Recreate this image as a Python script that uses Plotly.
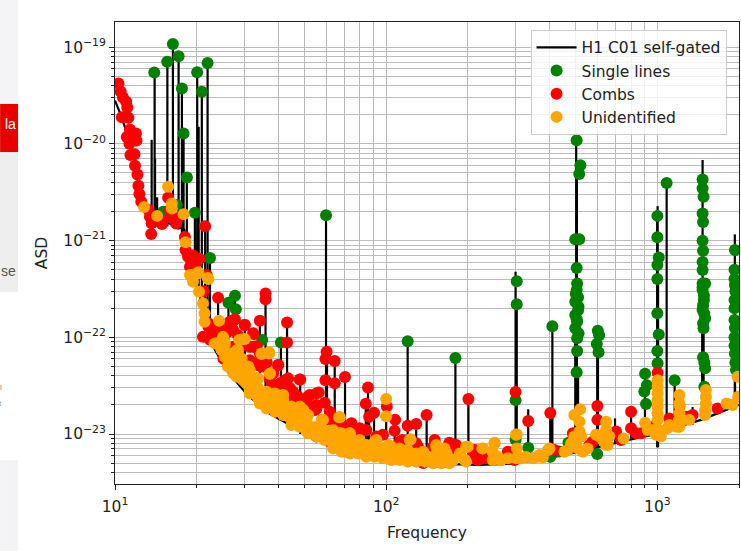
import plotly.graph_objects as go

# noise floor of the spectrum
floor_freq = [10, 10.5, 11.4, 12.2, 13.5, 15, 18, 19.5, 20.5, 21.4, 23, 25.7, 30.6, 36, 45, 55, 67, 80, 97, 125, 161,
              220, 280, 367, 480, 600, 730, 860, 1000, 1200, 1450, 1730, 2000]
floor_asd = [2.8e-20, 2e-20, 1e-20, 4e-21, 1.6e-21, 1.6e-21, 1.3e-21, 4e-22, 2.8e-22, 1.4e-22, 8e-23, 4.6e-23, 2.6e-23,
             1.7e-23, 1.2e-23, 9.2e-24, 6.6e-24, 5.9e-24, 5.3e-24, 5e-24, 4.9e-24, 4.8e-24, 4.9e-24, 5.4e-24, 6.3e-24,
             7.3e-24, 8.3e-24, 9.2e-24, 1e-23, 1.2e-23, 1.4e-23, 1.7e-23, 2e-23]

# spikes standing on the floor
stem_freq = [13.65, 14.0, 14.05, 14.3, 15.6, 16.35, 17.16, 17.65, 17.9, 18.4, 19.7, 20.1, 20.35, 20.9, 21.5, 21.95, 22.4,
             24, 26.2, 27.7, 30.1, 34.2, 35.9, 36.2, 40.9, 43.1, 43.5, 48.2, 60, 60.5, 64.6, 70.5, 84.1, 85.7, 86.5,
             90.2, 100, 107.5, 120, 129, 141, 180, 201, 300, 303, 334, 403, 405, 410, 498, 502, 505, 510, 600, 604,
             698, 800, 900, 998, 1002, 1006, 1082, 1158, 1349, 1464, 1468, 1474, 1480, 1667, 1930, 1934]
stem_top = [1.1e-20, 5.5e-20, 7e-21, 2.8e-21, 7e-20, 1.08e-19, 8e-20, 3.7e-20, 1.3e-20, 4.5e-21, 2e-21, 5.5e-20, 1.5e-20,
            3.4e-20, 1.4e-21, 6.8e-20, 6.6e-22, 2.56e-22, 2.28e-22, 2.69e-22, 1.34e-22, 1.48e-22, 2.84e-22, 5.6e-23,
            8.85e-23, 1.42e-22, 3.76e-23, 3.67e-23, 1.83e-21, 7.1e-23, 5.68e-23, 3.88e-23, 2.06e-23, 3.03e-23, 1.51e-23,
            1.66e-23, 2.3e-23, 1.4e-23, 9.1e-23, 1.27e-23, 1.57e-23, 6.1e-23, 2.3e-23, 4.76e-22, 2.19e-22, 1.8e-23,
            1.65e-23, 1.65e-23, 1.3e-22, 3.6e-22, 1.09e-20, 4.87e-21, 4.35e-23, 1.17e-22, 7e-23, 1.45e-23, 1.7e-23,
            4.2e-23, 1.8e-21, 2.27e-21, 4e-22, 3.93e-21, 3.6e-23, 1.9e-23, 1.24e-22, 6.8e-21, 1.9e-22, 3.6e-22, 2e-23,
            1.16e-21, 1e-22]
stem_base = [1.5e-21, 1.5e-21, 1.4e-21, 1.4e-21, 1.4e-21, 1.4e-21, 1.3e-21, 1.1e-21, 1.1e-21, 1e-21, 4e-22, 3.5e-22,
             3.2e-22, 2.8e-22, 2e-22, 1.5e-22, 1.3e-22, 7e-23, 4.5e-23, 3.8e-23, 2.7e-23, 1.9e-23, 1.7e-23, 1.7e-23,
             1.4e-23, 1.2e-23, 1.2e-23, 1e-23, 8e-24, 8e-24, 7e-24, 6.4e-24, 5.8e-24, 5.8e-24, 5.8e-24, 5.6e-24, 5.3e-24,
             5.2e-24, 5.1e-24, 5e-24, 5e-24, 4.9e-24, 4.8e-24, 5e-24, 5e-24, 5.2e-24, 5.6e-24, 5.6e-24, 5.7e-24, 6.3e-24,
             6.3e-24, 6.4e-24, 6.4e-24, 7.3e-24, 7.3e-24, 8.2e-24, 9e-24, 9.4e-24, 7.3e-24, 7.3e-24, 7.3e-24, 1.05e-23,
             1.1e-23, 1.25e-23, 1.4e-23, 1.4e-23, 1.4e-23, 1.4e-23, 1.6e-23, 1.9e-23, 1.9e-23]

green_freq = [13.96, 15.58, 16.35, 17.16, 17.65, 17.9, 18.42, 20.09, 20.91, 21.95, 19.7, 22.4, 15.06, 16.9,
              26.2, 27.7, 27.9, 34.9, 40.9, 40.5, 60, 120, 180, 300, 303, 303, 300, 300, 334, 403, 410, 435, 470, 600,
              504, 520, 515, 498, 515, 504, 506, 504, 510, 498, 512, 504, 506, 498, 506, 506,
              500, 510, 498, 512, 504,
              603, 610, 598, 607,
              901, 915, 895, 908,
              1000, 1000, 1012, 1000, 1000, 1000, 1012, 1000, 1002,
              1082, 1158,
              1468, 1468, 1480, 1468, 1474, 1468, 1474, 1468, 1468, 1468, 1500, 1468, 1485, 1468, 1500, 1480, 1474, 1500, 1490,
              1468, 1485, 1474, 1490, 1474, 1490,
              1932, 1925, 1932, 1925, 1925, 1925, 1932, 1950,
              1925, 1940, 1925, 1932, 1925, 1940]
green_asd = [5.48e-20, 7.05e-20, 1.08e-19, 8.07e-20, 3.74e-20, 1.28e-20, 4.5e-21, 5.5e-20, 3.45e-20, 6.84e-20, 1.94e-21, 6.6e-22, 1.99e-21, 2.33e-21,
             2.28e-22, 2.69e-22, 1.95e-22, 9.4e-23, 8.85e-23, 3.1e-23, 1.83e-21, 9.1e-23, 6.1e-23, 2.24e-23, 3.79e-22, 2.19e-22, 8.7e-24, 5.8e-24, 7.2e-24, 5.8e-24, 1.3e-22, 6.6e-24, 8.1e-24, 6.2e-24,
             1.09e-20, 6e-21, 4.87e-21, 1.03e-21, 1.03e-21, 5.2e-22, 3.6e-22, 3.08e-22, 2.6e-22, 2.33e-22, 2.07e-22, 1.54e-22, 1.45e-22, 1.24e-22, 9.75e-23, 7.2e-23,
             2.8e-22, 1.9e-22, 1.7e-22, 1.1e-22, 4.35e-23,
             1.17e-22, 1.05e-22, 8.5e-23, 7e-23,
             4.2e-23, 3.2e-23, 2.75e-23, 2.04e-23,
             1.8e-21, 1.08e-21, 6.7e-22, 5.6e-22, 4e-22, 1.77e-22, 1.07e-22, 7.2e-23, 5.4e-23,
             3.93e-21, 3.6e-23,
             4.29e-21, 3.47e-21, 2.84e-21, 1.91e-21, 1.56e-21, 9.95e-22, 7.85e-22, 6e-22, 4.96e-22, 3.6e-22, 3.6e-22, 3.08e-22, 2.43e-22, 1.92e-22, 1.57e-22, 1.24e-22, 6.2e-23, 4.78e-23, 3.08e-23,
             3.3e-22, 2.7e-22, 2.15e-22, 1.75e-22, 1.4e-22, 5.5e-23,
             7.98e-22, 5e-22, 3.47e-22, 2.43e-22, 1.51e-22, 1e-22, 6.8e-23, 4.6e-23,
             4e-22, 3e-22, 2e-22, 1.25e-22, 8.2e-23, 5.5e-23]

red_freq = [10.3, 10.5, 10.7, 11.0, 11.1, 10.6, 11.2, 11.35, 11.95, 11.05, 11.7, 12.0, 11.3, 11.4, 11.8, 11.85, 12.1, 12.2, 12.3,
            12.5, 13.3, 13.45, 13.65, 13.6, 14.9, 15.7, 15.95, 16.2, 17.0, 18.1, 18.6, 18.9, 20.1, 21.5, 21.8,
            19.2, 24.0, 35.9, 35.9, 34.2, 30.1, 27.7, 26.5, 43.1, 43.1, 32.4, 33.3, 23, 24.4, 40, 36.2, 33.3, 42.3, 43.5,
            48.2, 60.3, 59.7, 64.6, 59.7, 64.6, 70.5, 56.4, 52.2, 59.4, 55.3, 61.9, 45.4, 85.7, 84.1, 100.5, 90.2, 86.5,
            107.9, 107.4, 120, 129, 141, 151, 171, 74.5, 79.8, 65.5, 50.8, 41.7, 38.3, 31.4, 27.3, 25, 22.4, 62, 84.5, 112, 137, 55.3,
            171, 181, 201, 300, 334, 403, 601, 601, 800, 800, 1002, 1107, 1349, 1667, 218, 212, 281, 297, 417, 488, 578, 704, 735, 871, 988,
            23.7, 26.1, 28.4, 26.6, 32.4, 34.7, 37.2, 40.6, 45.4, 49.4, 54.6, 58.5, 68.4, 79.8, 92, 112, 122, 129, 171,
            209, 228, 293, 562, 647, 834, 934, 1138, 1276, 15, 16.8, 18.2, 19.4, 20.5, 21.2,
            22.4, 31.4, 34.2, 35.2, 38.3, 44.2, 47.3, 52.3, 62.8, 73.4, 84.5, 97.3, 115, 149, 28.9, 25.8, 21.1, 22.1,
            23, 22.1, 27.3, 27.3, 30.1, 32.3, 32.8, 25.1, 33.7, 36.2, 40, 42.9, 37.8, 48, 51.5, 46.7, 55.3, 55.3, 215, 234, 131]
red_asd = [4.2e-20, 3.45e-20, 3.02e-20, 2.72e-20, 2.38e-20, 1.88e-20, 1.86e-20, 1.41e-20, 1.28e-20, 1.18e-20, 1.2e-20, 1.08e-20, 1e-20, 7.66e-21, 7.8e-21, 5.93e-21, 4.83e-21, 3.68e-21, 3.03e-21,
           2.52e-21, 2.07e-21, 1.76e-21, 1.51e-21, 1.17e-21, 1.48e-21, 2.77e-21, 2.07e-21, 1.76e-21, 1.7e-21, 1.09e-21, 6.8e-22, 5.36e-22, 6.04e-22, 1.41e-21, 4.4e-22,
           5.8e-22, 2.56e-22, 2.84e-22, 2.47e-22, 1.48e-22, 1.34e-22, 1.53e-22, 1.45e-22, 1.42e-22, 8.85e-23, 1.08e-22, 8.1e-23, 1.1e-22, 8.65e-23, 5.16e-23, 5.6e-23, 5.4e-23, 3.6e-23, 3.76e-23,
           3.67e-23, 7.1e-23, 5.96e-23, 5.68e-23, 3.6e-23, 3.34e-23, 3.88e-23, 2.69e-23, 2.53e-23, 2.11e-23, 2e-23, 1.7e-23, 2.74e-23, 3.03e-23, 2.06e-23, 1.92e-23, 1.66e-23, 1.51e-23,
           1.4e-23, 1.08e-23, 1.22e-23, 1.27e-23, 1.57e-23, 8.67e-24, 8e-24, 1.29e-23, 1.02e-23, 1.1e-23, 1.77e-23, 2.53e-23, 3.08e-23, 5.8e-23, 8e-23, 1.19e-22, 1.29e-22, 8.3e-24, 6.07e-24, 5.83e-24, 5e-24, 9.4e-24,
           8.13e-24, 7.7e-24, 2.3e-23, 2.72e-23, 1.36e-23, 1.65e-23, 1.95e-23, 1.4e-23, 1.7e-23, 1.15e-23, 4.3e-23, 1.45e-23, 1.57e-23, 1.84e-23, 5.38e-24, 6.84e-24, 6.56e-24, 5.38e-24, 6.84e-24, 1.02e-23, 8.3e-24, 1.06e-23, 8.67e-24, 1.02e-23, 1.1e-23,
           9.75e-23, 1.14e-22, 1.05e-22, 6.8e-23, 8e-23, 5e-23, 3.76e-23, 3.34e-23, 2.24e-23, 2.24e-23, 1.77e-23, 1.4e-23, 1.29e-23, 1.15e-23, 9.4e-24, 8.3e-24, 8.67e-24, 8e-24, 6.56e-24,
           6.3e-24, 5.6e-24, 5.8e-24, 7.7e-24, 9.8e-24, 1.02e-23, 1.19e-23, 1.4e-23, 1.51e-23, 1.6e-21, 1.5e-21, 8e-22, 7e-22, 6.5e-22, 3e-22,
           9.4e-23, 8e-23, 6.8e-23, 5e-23, 4.24e-23, 2.97e-23, 2.43e-23, 1.92e-23, 1.4e-23, 1.19e-23, 1.1e-23, 9.8e-24, 8.67e-24, 7.4e-24, 8e-23, 6.3e-23, 1.01e-22, 1.29e-22,
           1.19e-22, 1.39e-22, 1.5e-22, 1.19e-22, 1.34e-22, 1.1e-22, 8e-23, 6.05e-23, 5.16e-23, 5.46e-23, 5.16e-23, 3.6e-23, 3.2e-23, 3.67e-23, 2.43e-23, 2.16e-23, 2.63e-23, 1.84e-23, 5.6e-24, 5.6e-24, 7.4e-24]

orange_freq = [12.8, 14.3, 15.7, 16.2, 16.2, 17.9, 18.2, 18.9, 20.3, 22,
               19.2, 20.3, 22.1, 19.4, 20.4, 21.1, 21.4, 21.4, 24.2, 25, 23.3, 24.7, 28.7, 30.1, 28.2, 28.9, 26.1, 28.1, 30.5, 33.3,
               34.7, 37, 37.3, 31.4, 35.2, 38.3, 41.7, 45.4, 49.4, 52.3, 57.8, 67, 56, 62.8, 73.5, 63.6, 79.8, 92, 100, 100, 101.6,
               84.5, 112, 123, 125.6, 153, 162, 144.6, 29.3, 32.4, 36.2, 40, 43.5, 48, 50.8, 60.3, 68.4, 73.5, 103, 137,
               160, 176, 195, 200, 226, 251, 247, 265, 303, 303, 315, 348, 395, 378, 454, 494, 519, 516, 516, 501, 531, 594, 647, 641, 656, 751,
               901, 1002, 1002, 1002, 1002, 961, 1030, 1107, 1205, 1211, 1199, 1178, 1312, 1510, 1510, 1499, 1799, 1892, 1977, 1986,
               26.6, 27.3, 29.7, 28, 31.4, 33.3, 34.2, 37.2, 41.1, 37.2, 41.7, 45.4, 46.7, 49.4, 53.8, 52.3, 58.5, 62.8, 67.5, 71.3,
               77.6, 84.5, 92, 97.3, 106, 115, 133, 149, 167, 120, 137, 92, 25.4, 26.9, 28.5, 30.1, 32.4,
               167, 187, 258, 328, 367, 400, 468, 481, 524, 629, 665, 988, 1091, 1205, 1239,
               23.7, 25.4, 25.4, 27.3, 27.3, 29.3, 29.3, 29.3, 31.4, 31.4, 31.4, 33.7, 33.7, 33.7, 36.2, 36.2, 36.2,
               38.9, 38.9, 38.9, 41.7, 41.7, 41.7, 44.7, 44.7, 44.7, 48, 48, 48, 51.5, 51.5, 51.5, 55.3, 55.3, 59.4, 59.4,
               63.7, 63.7, 63.7, 68.4, 68.4, 68.4, 73.4, 73.4, 73.4, 78.8, 78.8, 84.5, 84.5, 90.7, 90.7, 97.3, 97.3,
               104.5, 104.5, 112, 112, 120, 120, 129, 129, 139, 139, 149, 149, 160, 160, 171, 171,
               164, 197, 281, 362, 494, 508, 647, 1016, 920, 1002, 1002, 1002, 1510, 1499, 1205, 1205,
               25.1, 23.7, 24.7, 29.2, 28.4, 34.7, 37, 37.2, 28.8, 26.1, 31, 27.3, 33.3, 29.7, 31.4, 36.2, 40.6, 34.2, 39.4, 44, 49.4, 48, 53.7,
               63.7, 73.2, 79.8, 92, 102, 112, 122, 153, 153, 176, 197, 195, 228, 251, 247, 265, 301, 301, 58.5, 67.5, 611, 647, 553]
orange_asd = [2.23e-21, 1.8e-21, 3.6e-21, 2.42e-21, 2.15e-21, 1.87e-21, 9.6e-22, 4.4e-22, 4.7e-22, 4.1e-22,
              4.4e-22, 4.6e-22, 4e-22, 3.75e-22, 2.96e-22, 2.24e-22, 1.77e-22, 1.45e-22, 1.48e-22, 1.01e-22, 8.65e-23, 7.5e-23, 9.4e-23, 9.6e-23, 7.4e-23, 5.8e-23, 5e-23, 3.9e-23, 3.34e-23, 3.6e-23,
              6.7e-23, 6.8e-23, 4.2e-23, 2.63e-23, 2.07e-23, 2.43e-23, 2.24e-23, 1.29e-23, 1.77e-23, 1.19e-23, 1.4e-23, 1.49e-23, 9.8e-24, 1.02e-23, 9.8e-24, 8e-24, 8.3e-24, 8.3e-24, 2.3e-23, 1.53e-23, 7.4e-24,
              6.84e-24, 6.56e-24, 8.8e-24, 5.6e-24, 7.4e-24, 5.38e-24, 5.38e-24, 4.58e-23, 2.96e-23, 2.53e-23, 1.92e-23, 1.57e-23, 1.45e-23, 1.1e-23, 1.02e-23, 8.3e-24, 7.1e-24, 5.83e-24, 6.07e-24,
              5.6e-24, 5.3e-24, 5.38e-24, 7.4e-24, 7.1e-24, 8.13e-24, 5.38e-24, 5.38e-24, 9.9e-24, 7.1e-24, 5.6e-24, 5.6e-24, 6.84e-24, 5.74e-24, 6.56e-24, 1.57e-23, 1.8e-23, 1.34e-23, 1.06e-23, 8e-24, 6.56e-24, 9.8e-24, 1.34e-23, 1.02e-23, 7.7e-24, 9e-24,
              1.31e-23, 3.6e-23, 2.63e-23, 1.92e-23, 1.4e-23, 1.1e-23, 9.4e-24, 1.24e-23, 2.53e-23, 1.92e-23, 1.4e-23, 1.19e-23, 1.4e-23, 2.85e-23, 2.07e-23, 1.57e-23, 2.07e-23, 2e-23, 3.9e-23, 2.43e-23,
              5.8e-23, 5.4e-23, 5e-23, 4.8e-23, 3.9e-23, 3e-23, 2.6e-23, 2.43e-23, 2.34e-23, 1.92e-23, 1.77e-23, 1.57e-23, 1.29e-23, 1.4e-23, 1.15e-23, 1.02e-23, 9.4e-24, 8.7e-24, 1.02e-23, 8e-24,
              7.4e-24, 7.7e-24, 6.84e-24, 6.1e-24, 6.84e-24, 5.8e-24, 5.4e-24, 5.2e-24, 5.2e-24, 6.84e-24, 6.56e-24, 7.4e-24, 9e-23, 6.8e-23, 6.05e-23, 4.07e-23, 3.47e-23,
              6.3e-24, 6.3e-24, 5.8e-24, 5.8e-24, 6.07e-24, 7.1e-24, 6.84e-24, 8e-24, 9.4e-24, 8.67e-24, 9.4e-24, 9.8e-24, 1.15e-23, 1.19e-23, 1.4e-23,
              8.65e-23, 8.3e-23, 6.3e-23, 6.05e-23, 4.6e-23, 6.05e-23, 5e-23, 3.76e-23, 4.6e-23, 3.47e-23, 2.74e-23, 3.76e-23, 2.97e-23, 2.34e-23, 2.74e-23, 2.16e-23, 1.84e-23,
              2.63e-23, 2.07e-23, 1.7e-23, 2.53e-23, 1.92e-23, 1.57e-23, 1.92e-23, 1.51e-23, 1.24e-23, 1.92e-23, 1.51e-23, 1.19e-23, 1.57e-23, 1.24e-23, 1.02e-23, 1.19e-23, 9.4e-24, 1.1e-23, 8.67e-24,
              1.1e-23, 8.67e-24, 7.1e-24, 1.02e-23, 7.7e-24, 6.56e-24, 1.02e-23, 8e-24, 6.3e-24, 8.3e-24, 6.3e-24, 7.4e-24, 5.83e-24, 8.3e-24, 5.83e-24, 7.1e-24, 5.6e-24,
              7.4e-24, 5.38e-24, 7.1e-24, 5.38e-24, 6.56e-24, 5.18e-24, 6.3e-24, 5.18e-24, 5.83e-24, 5.18e-24, 5.83e-24, 4.98e-24, 5.6e-24, 4.98e-24, 5.6e-24, 4.98e-24,
              7.1e-24, 5.18e-24, 5.6e-24, 5.83e-24, 9.4e-24, 7.1e-24, 1.1e-23, 1.1e-23, 1.1e-23, 3.08e-23, 2.24e-23, 1.64e-23, 2.43e-23, 1.77e-23, 2.07e-23, 1.64e-23,
              9.75e-23, 8.65e-23, 7.4e-23, 9.5e-23, 7.4e-23, 6.8e-23, 7e-23, 4.2e-23, 5.6e-23, 5e-23, 5e-23, 4.24e-23, 3.76e-23, 3.6e-23, 2.85e-23, 2.43e-23, 2.34e-23, 2.07e-23, 1.77e-23, 1.51e-23, 1.77e-23, 1.29e-23, 1.02e-23,
              1.06e-23, 1.02e-23, 8.67e-24, 8.67e-24, 7.7e-24, 6.84e-24, 8.67e-24, 7.7e-24, 6.3e-24, 5.38e-24, 7.4e-24, 5.38e-24, 7.1e-24, 8e-24, 6.56e-24, 5.38e-24, 9.8e-24, 5.6e-24, 1.4e-23, 1.49e-23, 9.4e-24, 7.7e-24, 7.1e-24]

x_tick_vals = [10, 100, 1000]
x_tick_text = ["10<sup>1</sup>", "10<sup>2</sup>", "10<sup>3</sup>"]
y_tick_vals = [1e-23, 1e-22, 1e-21, 1e-20, 1e-19]
y_tick_text = ["10<sup>\u221223</sup>", "10<sup>\u221222</sup>", "10<sup>\u221221</sup>", "10<sup>\u221220</sup>", "10<sup>\u221219</sup>"]

# floor, then each spike as its own segment
line_x = floor_freq + [None]
line_y = floor_asd + [None]
for f, top, base in zip(stem_freq, stem_top, stem_base):
    line_x += [f, f, None]
    line_y += [base, top, None]

fig = go.Figure()
fig.add_trace(go.Scatter(x=line_x, y=line_y, mode="lines", name="H1 C01 self-gated",
                         line=dict(color="black", width=2.2), connectgaps=False))
for name, fx, fy, col in [("Single lines", green_freq, green_asd, "green"),
                          ("Combs", red_freq, red_asd, "red"),
                          ("Unidentified", orange_freq, orange_asd, "orange")]:
    fig.add_trace(go.Scatter(x=fx, y=fy, mode="markers", name=name,
                             marker=dict(color=col, size=12, line=dict(width=0))))

grid = "#bcbcbc"
ink = "#222222"
axis_style = dict(type="log", tickmode="array", showgrid=True, gridcolor=grid, gridwidth=1,
                  showline=True, linecolor=ink, linewidth=1, mirror=True, ticks="outside", ticklen=5, tickcolor=ink,
                  minor=dict(dtick="D1", showgrid=True, gridcolor=grid, gridwidth=1, ticks="outside", ticklen=3, tickcolor=ink),
                  zeroline=False, tickfont=dict(size=15.5, color=ink))
fig.update_xaxes(range=[1, 3.301], tickvals=x_tick_vals, ticktext=x_tick_text, ticklabelstandoff=3,
                 title=dict(text="Frequency", standoff=12, font=dict(size=15.5, color=ink)), **axis_style)
fig.update_yaxes(range=[-23.517, -18.74], tickvals=y_tick_vals, ticktext=y_tick_text,
                 title=dict(text="ASD", standoff=11, font=dict(size=15.5, color=ink)), **axis_style)

# bits of the page behind the figure, on the left
plot_w = 624.5
plot_h = 462.0
def paper_x(px):
    return (px - 115) / plot_w
def paper_y(py):
    return (484 - py) / plot_h

page_boxes = [(0, 0, 18, 104, "#f4f4f6"), (0, 104, 18, 152, "#e60000"), (0, 152, 18, 292, "#eeeeee"),
              (0, 460, 18, 551, "#f3f3f6")]
for x0, y0, x1, y1, col in page_boxes:
    fig.add_shape(type="rect", xref="paper", yref="paper", x0=paper_x(x0), x1=paper_x(x1), y0=paper_y(y0), y1=paper_y(y1),
                  fillcolor=col, line=dict(width=0), layer="below")
for txt, px, py, col, size in [("la", 18, 124, "white", 14), ("se", 18, 271, "#555555", 14),
                               ("l", 4, 388, "#888888", 8), ("t", 4, 403, "#888888", 8)]:
    fig.add_annotation(text=txt, xref="paper", yref="paper", x=paper_x(px), y=paper_y(py), xanchor="right", yanchor="middle",
                       showarrow=False, font=dict(color=col, size=size, family="Liberation Sans"))

fig.update_layout(width=741, height=551, margin=dict(l=115, r=1.5, t=22, b=67),
                  paper_bgcolor="white", plot_bgcolor="white",
                  font=dict(family="DejaVu Sans", size=14, color=ink),
                  legend=dict(x=0.666, y=0.983, xanchor="left", yanchor="top", bgcolor="rgba(255,255,255,0.8)",
                              bordercolor="#cccccc", borderwidth=1, font=dict(size=15.5), itemwidth=40, tracegroupgap=0))

fig.write_html("out.html", config=dict(displayModeBar=False), post_script="document.body.style.margin='0';")
